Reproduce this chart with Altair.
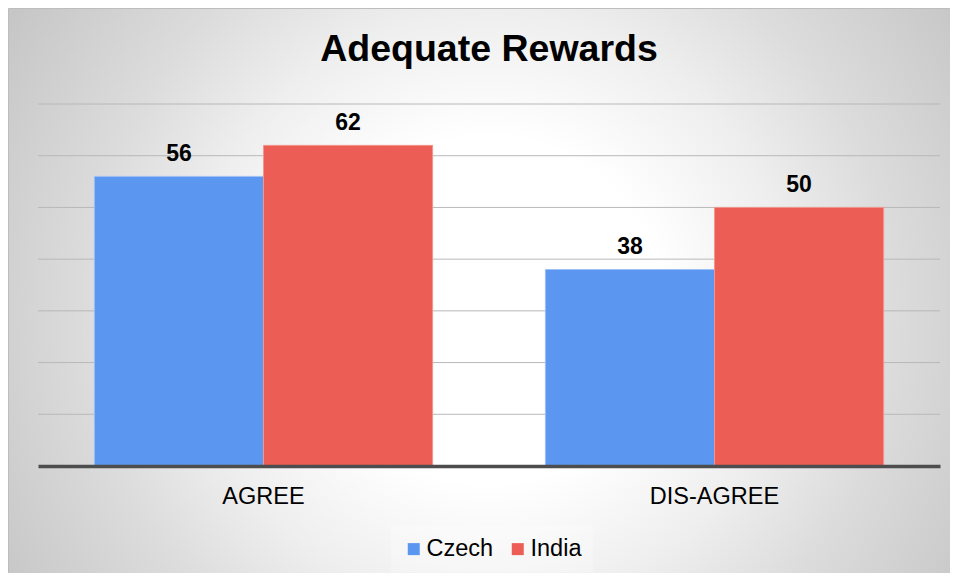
import altair as alt
import pandas as pd

categories = ["AGREE", "DIS-AGREE"]
countries = ["Czech", "India"]
czech = [56, 38]
india = [62, 50]
grid_values = [10, 20, 30, 40, 50, 60, 70]

rows = []
for i, c in enumerate(categories):
    rows.append({"category": c, "country": "Czech", "value": czech[i]})
    rows.append({"category": c, "country": "India", "value": india[i]})
df = pd.DataFrame(rows)
grid_df = pd.DataFrame({"v": grid_values})

W, H = 902, 362
PL, PT, PR, PB = 30, 96, 10, 107
FONT = "Liberation Sans"

bar_colors = ["#5B96F0", "#EC5E55"]
bar_strokes = ["#9FBFF5", "#F3968E"]

y_scale = alt.Scale(domain=[0, 70], nice=False, zero=True)

bg = alt.Chart(pd.DataFrame({"k": [0]})).mark_rect(
    fill=alt.RadialGradient(
        gradient="radial",
        x1=0.5, y1=0.51, r1=0, x2=0.5, y2=0.51, r2=0.6,
        stops=[
            alt.GradientStop(offset=0, color="#ffffff"),
            alt.GradientStop(offset=0.3, color="#ffffff"),
            alt.GradientStop(offset=0.52, color="#eeeeee"),
            alt.GradientStop(offset=0.7, color="#dcdcdc"),
            alt.GradientStop(offset=0.85, color="#d0d0d0"),
            alt.GradientStop(offset=1, color="#c4c4c4"),
        ],
    ),
    stroke="#bdbdbd",
    strokeWidth=1,
).encode(
    x=alt.value(-PL + 0.5),
    x2=alt.value(W + PR + 20),
    y=alt.value(-PT + 0.5),
    y2=alt.value(H + PB + 20),
)

grid = alt.Chart(grid_df).mark_rule(color="#b8b8b8", strokeWidth=1).encode(
    y=alt.Y("v:Q", scale=y_scale, axis=None)
)

x_enc = alt.X(
    "category:N",
    sort=categories,
    scale=alt.Scale(paddingInner=0.25, paddingOuter=0.125),
    axis=alt.Axis(
        title=None,
        labelAngle=0,
        labelFont=FONT,
        labelFontSize=23.5,
        labelColor="#000000",
        ticks=False,
        labelPadding=18,
        domainColor="#4d4d4d",
        domainWidth=3.5,
        grid=False,
        zindex=1,
    ),
)

bars = alt.Chart(df).mark_bar(strokeWidth=1).encode(
    x=x_enc,
    xOffset=alt.XOffset("country:N", sort=countries, scale=alt.Scale(paddingInner=0, paddingOuter=0)),
    y=alt.Y("value:Q", scale=y_scale, axis=None),
    color=alt.Color(
        "country:N",
        sort=countries,
        scale=alt.Scale(domain=countries, range=bar_colors),
        legend=alt.Legend(
            title=None,
            orient="none",
            direction="horizontal",
            legendX=353,
            legendY=422,
            symbolType="square",
            symbolSize=144,
            symbolStrokeWidth=0,
            labelFont=FONT,
            labelFontSize=23.5,
            labelColor="#000000",
            labelOffset=1,
            columnPadding=12,
            padding=11,
            fillColor="rgba(255,255,255,0.25)",
            zindex=1,
        ),
    ),
    stroke=alt.Stroke(
        "country:N",
        sort=countries,
        scale=alt.Scale(domain=countries, range=bar_strokes),
        legend=None,
    ),
)

labels = alt.Chart(df).mark_text(
    font=FONT, fontSize=23, fontWeight="bold", color="#000000",
    baseline="alphabetic", dy=-15,
).encode(
    x=alt.X("category:N", sort=categories),
    xOffset=alt.XOffset("country:N", sort=countries),
    y=alt.Y("value:Q", scale=y_scale, axis=None),
    text=alt.Text("value:Q"),
)

chart = alt.layer(bg, grid, bars, labels).properties(
    width=W,
    height=H,
    padding={"left": PL, "top": PT, "right": PR, "bottom": PB},
    autosize=alt.AutoSizeParams(type="none"),
    title=alt.Title(
        "Adequate Rewards",
        font=FONT,
        fontSize=37.5,
        fontWeight="bold",
        color="#000000",
        anchor="middle",
        frame="group",
        baseline="alphabetic",
        offset=0,
        dy=90,
        zindex=1,
    ),
).configure_view(stroke=None).configure(background="#ffffff")

chart.save("out.html", embed_options={"renderer": "svg", "actions": False})
